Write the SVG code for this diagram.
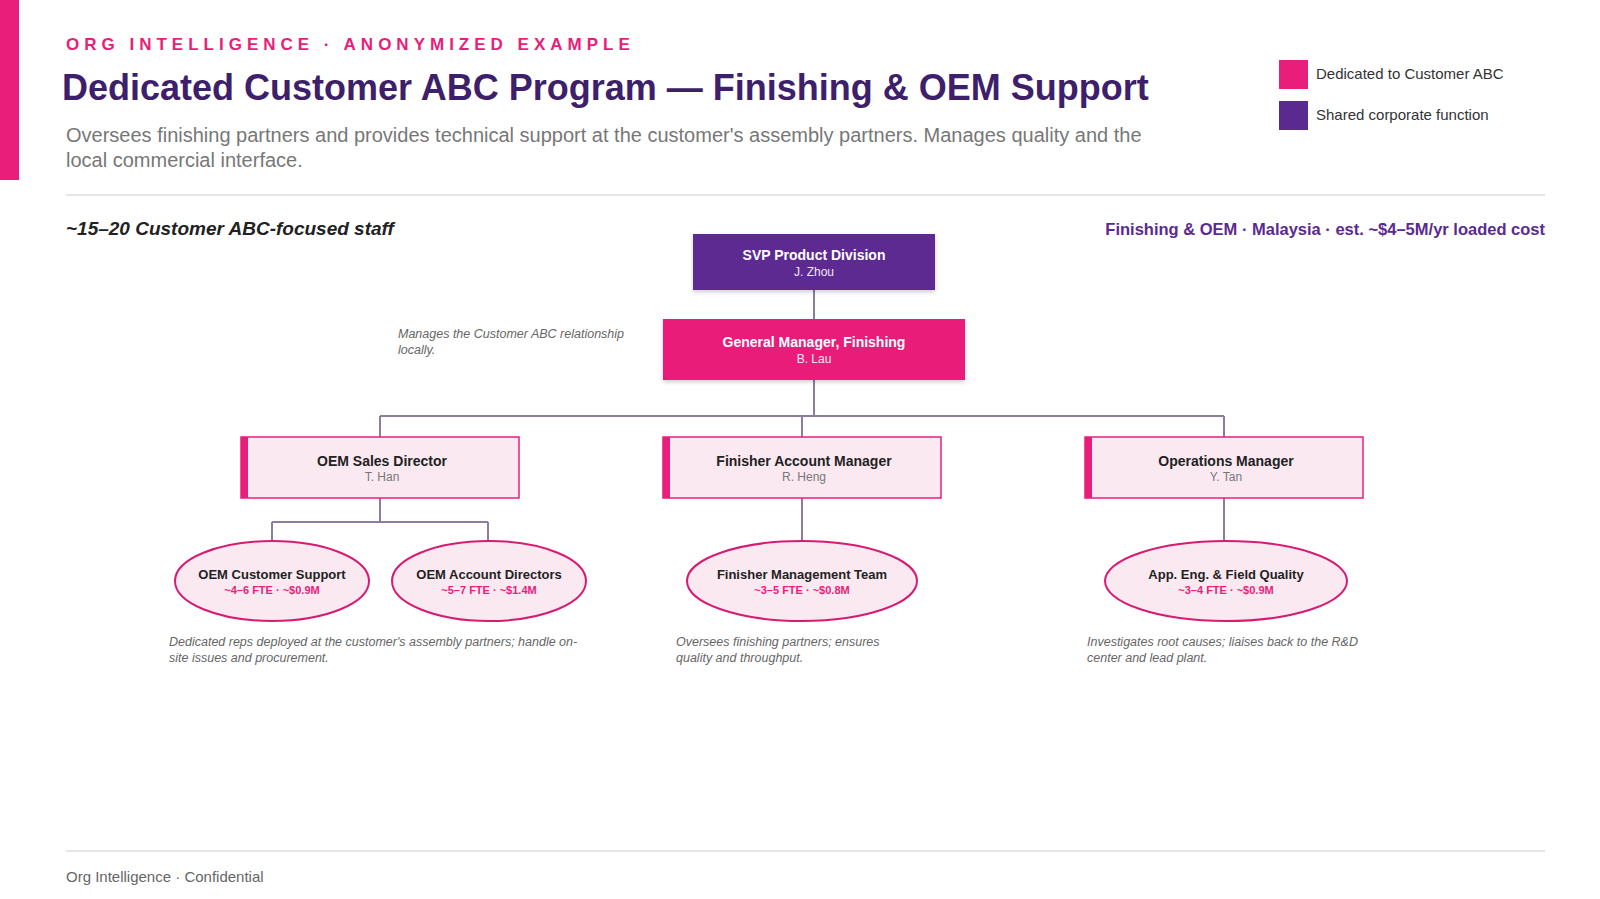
<svg xmlns="http://www.w3.org/2000/svg" width="1600" height="899" viewBox="0 0 1600 899">
<defs>
<style>
text{font-family:"Liberation Sans",Arial,sans-serif}
.t{font-weight:bold;font-size:14px;fill:#222;text-anchor:middle}
.tw{font-weight:bold;font-size:14px;fill:#fff;text-anchor:middle}
.s{font-size:12px;fill:#777;text-anchor:middle}
.sw{font-size:12px;fill:#f3e6f5;text-anchor:middle}
.f{font-weight:bold;font-size:11px;fill:#e91e7a;text-anchor:middle}
.n{font-style:italic;font-size:12.5px;fill:#666}
.box{fill:#fbe9f2;stroke:#e91e7a;stroke-width:1.5}
.ell{fill:#fbe9f2;stroke:#d81b72;stroke-width:2}
.c{fill:none;stroke:#8e7ba0;stroke-width:2}
</style>
<filter id="sh" x="-10%" y="-10%" width="120%" height="130%"><feDropShadow dx="0" dy="2" stdDeviation="2" flood-opacity="0.2"/></filter>
</defs>
<rect width="1600" height="899" fill="#fff"/>
<rect x="0" y="0" width="19" height="180" fill="#e91e7a"/>
<text x="66" y="50" font-size="17" font-weight="bold" fill="#e91e7a" letter-spacing="5">ORG INTELLIGENCE  ·  ANONYMIZED EXAMPLE</text>
<text x="62" y="100" font-size="36" font-weight="bold" fill="#3e1f6b">Dedicated Customer ABC Program — Finishing &amp; OEM Support</text>
<text x="66" y="142" font-size="20" fill="#777">Oversees finishing partners and provides technical support at the customer's assembly partners. Manages quality and the</text>
<text x="66" y="167" font-size="20" fill="#777">local commercial interface.</text>
<rect x="1279" y="60" width="29" height="29" fill="#e91e7a"/>
<text x="1316" y="79" font-size="15" fill="#333">Dedicated to Customer ABC</text>
<rect x="1279" y="101" width="29" height="29" fill="#5b2a91"/>
<text x="1316" y="120" font-size="15" fill="#333">Shared corporate function</text>
<line x1="66" y1="195" x2="1545" y2="195" stroke="#ddd" stroke-width="1.5"/>
<text x="66" y="235" font-size="19" font-weight="bold" font-style="italic" fill="#222">~15–20 Customer ABC-focused staff</text>
<text x="1545" y="235" font-size="16.5" font-weight="bold" fill="#5b2a91" text-anchor="end">Finishing &amp; OEM · Malaysia  ·  est. ~$4–5M/yr loaded cost</text>
<g id="connectors">
<path class="c" d="M814 290V319M814 380V416M380 416H1224M380 416V437M802 416V437M1224 416V437M380 498V522M272 522H488M272 522V541M488 522V541M802 498V541M1224 498V541"/>
</g>
<g id="svp"><rect x="693" y="234" width="242" height="56" fill="#5b2a91" filter="url(#sh)"/><text class="tw" x="814" y="260">SVP Product Division</text><text class="sw" x="814" y="276">J. Zhou</text></g>
<g id="gm"><rect x="663" y="319" width="302" height="61" fill="#e91e7a" filter="url(#sh)"/><text class="tw" x="814" y="347">General Manager, Finishing</text><text class="sw" x="814" y="363">B. Lau</text></g>
<text class="n" x="398" y="338">Manages the Customer ABC relationship</text>
<text class="n" x="398" y="354">locally.</text>
<g id="oemsd"><rect class="box" x="241" y="437" width="278" height="61"/><rect x="241" y="437" width="7" height="61" fill="#e91e7a"/><text class="t" x="382" y="466">OEM Sales Director</text><text class="s" x="382" y="481">T. Han</text></g>
<g id="fam"><rect class="box" x="663" y="437" width="278" height="61"/><rect x="663" y="437" width="7" height="61" fill="#e91e7a"/><text class="t" x="804" y="466">Finisher Account Manager</text><text class="s" x="804" y="481">R. Heng</text></g>
<g id="om"><rect class="box" x="1085" y="437" width="278" height="61"/><rect x="1085" y="437" width="7" height="61" fill="#e91e7a"/><text class="t" x="1226" y="466">Operations Manager</text><text class="s" x="1226" y="481">Y. Tan</text></g>
<g id="ocs"><ellipse class="ell" cx="272" cy="581" rx="97" ry="40"/><text class="t" font-size="13" x="272" y="579" style="font-size:13px">OEM Customer Support</text><text class="f" x="272" y="594">~4–6 FTE  ·  ~$0.9M</text></g>
<g id="oad"><ellipse class="ell" cx="489" cy="581" rx="97" ry="40"/><text class="t" x="489" y="579" style="font-size:13px">OEM Account Directors</text><text class="f" x="489" y="594">~5–7 FTE  ·  ~$1.4M</text></g>
<g id="fmt"><ellipse class="ell" cx="802" cy="581" rx="115" ry="40"/><text class="t" x="802" y="579" style="font-size:13px">Finisher Management Team</text><text class="f" x="802" y="594">~3–5 FTE  ·  ~$0.8M</text></g>
<g id="aefq"><ellipse class="ell" cx="1226" cy="581" rx="121" ry="40"/><text class="t" x="1226" y="579" style="font-size:13px">App. Eng. &amp; Field Quality</text><text class="f" x="1226" y="594">~3–4 FTE  ·  ~$0.9M</text></g>
<text class="n" x="169" y="646">Dedicated reps deployed at the customer's assembly partners; handle on-</text>
<text class="n" x="169" y="662">site issues and procurement.</text>
<text class="n" x="676" y="646">Oversees finishing partners; ensures</text>
<text class="n" x="676" y="662">quality and throughput.</text>
<text class="n" x="1087" y="646">Investigates root causes; liaises back to the R&amp;D</text>
<text class="n" x="1087" y="662">center and lead plant.</text>
<line x1="66" y1="851" x2="1545" y2="851" stroke="#ddd" stroke-width="1.5"/>
<text x="66" y="882" font-size="15" fill="#666">Org Intelligence  ·  Confidential</text>
</svg>
